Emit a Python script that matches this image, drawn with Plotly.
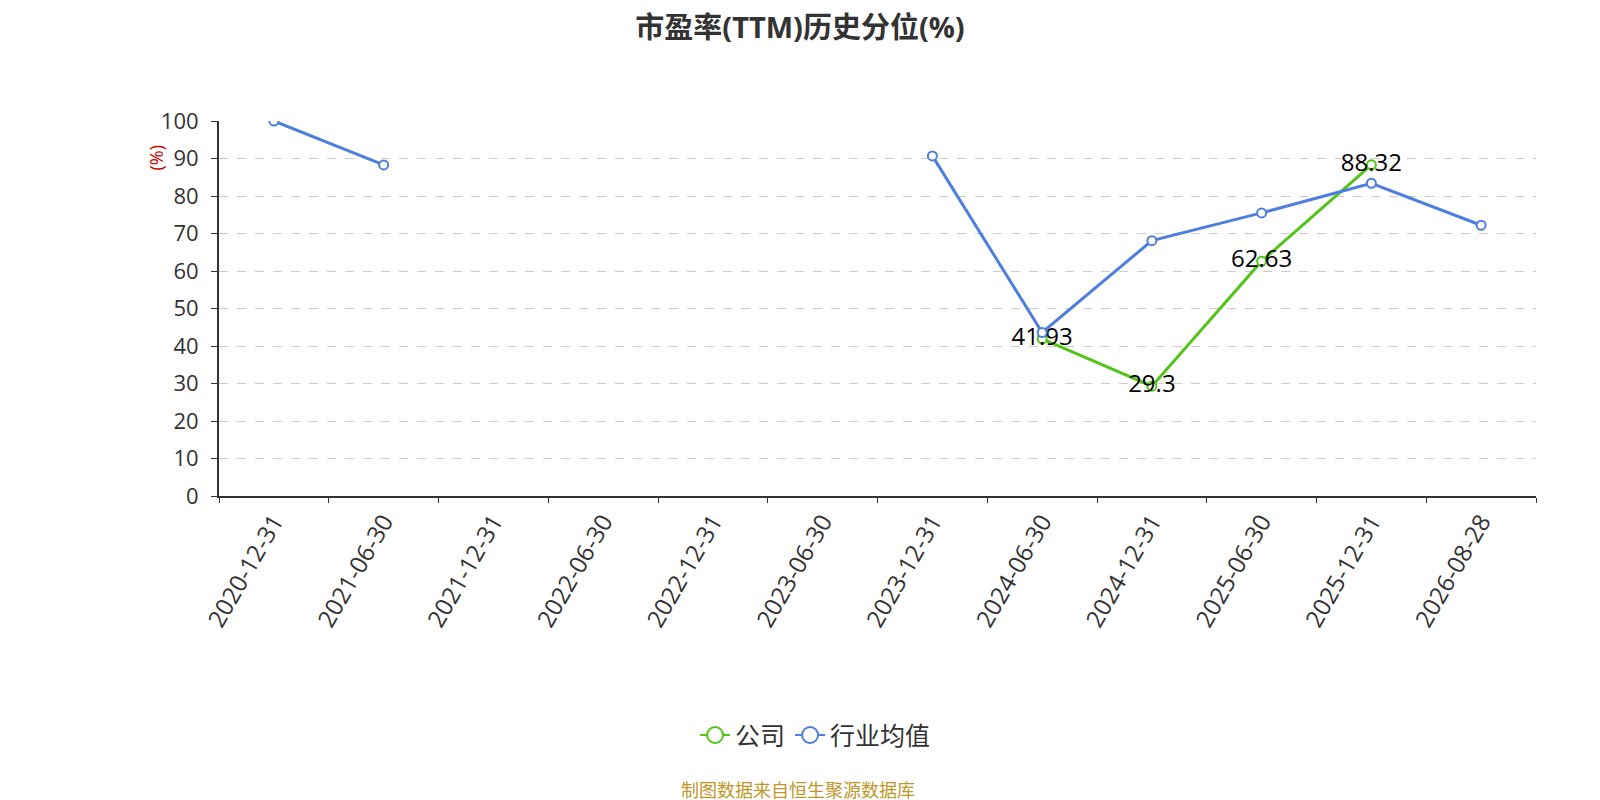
import plotly.graph_objects as go

# 报告期
dates = ["2020-12-31", "2021-06-30", "2021-12-31", "2022-06-30", "2022-12-31",
         "2023-06-30", "2023-12-31", "2024-06-30", "2024-12-31", "2025-06-30",
         "2025-12-31", "2026-08-28"]

# 公司 PE(TTM) 历史分位
company = [None, None, None, None, None, None, None, 41.93, 29.3, 62.63, 88.32, None]
# 行业均值
industry = [100, 88.3, None, None, None, None, 90.7, 43.6, 68.1, 75.5, 83.4, 72.2]

company_labels = ["" if v is None else f"{v:g}" for v in company]

GREEN = "#52c41a"
BLUE = "#4e7fdc"
FONT = "Open Sans, Noto Sans CJK SC, sans-serif"

fig = go.Figure()

fig.add_trace(go.Scatter(
    x=dates, y=company, name="公司", showlegend=False,
    mode="lines+markers+text",
    text=company_labels, textposition="middle center",
    textfont=dict(size=24, color="#000000"),
    line=dict(color=GREEN, width=3),
    marker=dict(symbol="circle", size=9, color="#ffffff",
                line=dict(color=GREEN, width=2)),
    connectgaps=False,
))

fig.add_trace(go.Scatter(
    x=dates, y=industry, name="行业均值", showlegend=False,
    mode="lines+markers",
    line=dict(color=BLUE, width=3),
    marker=dict(symbol="circle", size=9, color="#ffffff",
                line=dict(color=BLUE, width=2)),
    connectgaps=False,
))

# legend entries with larger symbols
for name, col in [("公司", GREEN), ("行业均值", BLUE)]:
    fig.add_trace(go.Scatter(
        x=[None], y=[None], name=name, mode="lines+markers",
        line=dict(color=col, width=2),
        marker=dict(symbol="circle", size=20, color="#ffffff",
                    line=dict(color=col, width=2)),
    ))

fig.update_layout(
    width=1600, height=800, autosize=False,
    paper_bgcolor="#ffffff", plot_bgcolor="#ffffff",
    margin=dict(l=211, r=72, t=113, b=312),
    font=dict(family=FONT, color="#333333"),
    title=dict(text="<b>市盈率(TTM)历史分位(%)</b>", x=0.495, xanchor="center",
               yref="container", y=0.975, yanchor="middle",
               font=dict(size=29, color="#333333")),
    showlegend=True,
    legend=dict(orientation="h", x=0.453, xanchor="center",
                y=-0.638, yanchor="middle",
                font=dict(size=25, color="#333333"), itemsizing="trace"),
    xaxis=dict(
        type="category", categoryorder="array", categoryarray=dates,
        tickson="boundaries", ticks="outside", ticklen=5, tickcolor="#333333",
        tickangle=-60, tickfont=dict(size=24, color="#333333"),
        showline=True, linecolor="#333333", linewidth=2,
        showgrid=False, zeroline=False,
        range=[-0.5, len(dates) - 0.5],
    ),
    yaxis=dict(
        range=[0, 100], dtick=10, ticks="outside", ticklen=6, tickcolor="#333333",
        tickfont=dict(size=22, color="#333333"), ticklabelstandoff=8,
        showline=True, linecolor="#333333", linewidth=2,
        showgrid=True, gridcolor="#cccccc", griddash="dash", gridwidth=1,
        zeroline=False,
    ),
    annotations=[
        dict(text="(%)", xref="paper", yref="paper", x=-0.048, y=0.902,
             xanchor="center", yanchor="middle",
             textangle=-90, showarrow=False,
             font=dict(size=18, color="#cc0000")),
        dict(text="制图数据来自恒生聚源数据库", xref="paper", yref="paper",
             x=0.44, y=-0.783, xanchor="center", yanchor="middle", showarrow=False,
             font=dict(size=18, color="#c0962a")),
    ],
)

fig.write_html("out.html")
